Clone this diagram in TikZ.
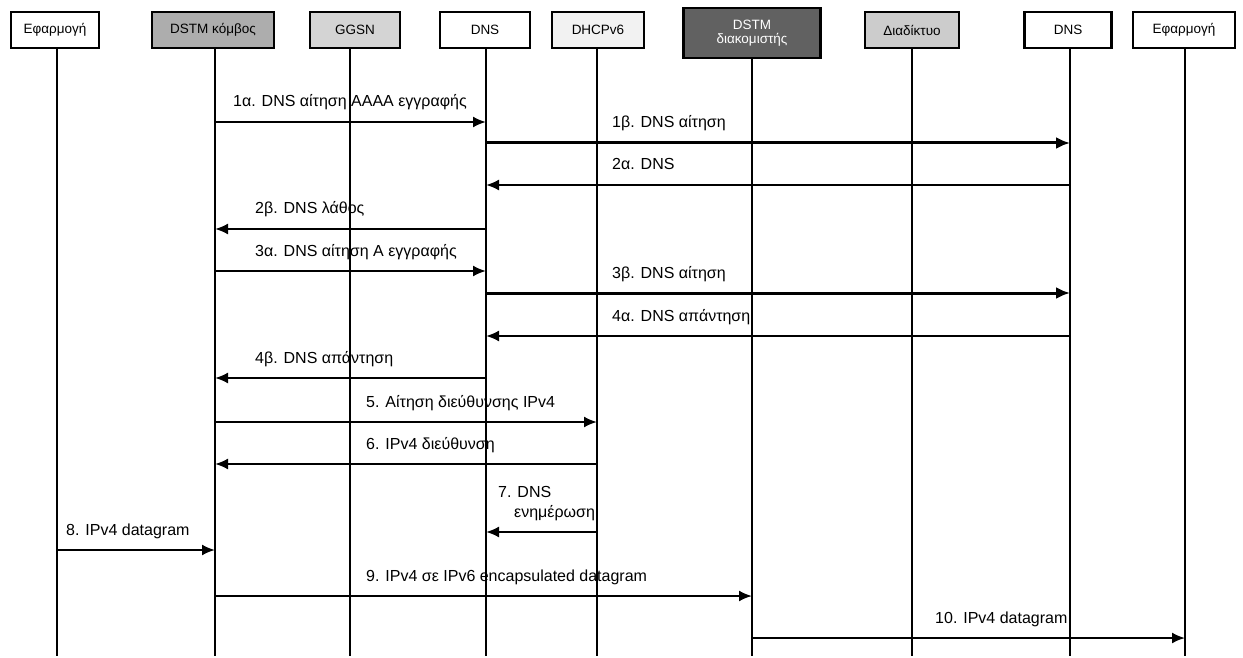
\documentclass[tikz,border=0pt]{standalone}
\usepackage{fontspec}
\setmainfont{Liberation Sans}
\usetikzlibrary{arrows.meta}
\begin{document}
\begin{tikzpicture}[x=1pt,y=-1pt,
  actor/.style={draw=black,line width=2.8pt,minimum height=36pt,inner sep=1pt,align=center,font=\fontsize{13.5}{14}\selectfont},
  life/.style={line width=1.9pt},
  msg/.style={line width=2pt,-{Latex[length=13pt,width=11pt]}},
  bmsg/.style={line width=3pt,-{Latex[length=14pt,width=12pt]}},
  lbl/.style={anchor=base west,inner sep=0pt,font=\fontsize{16}{20}\selectfont}]
\useasboundingbox (0,0) rectangle (1243,658);
% lifeline ends
\coordinate (app1e) at (57,656);
\coordinate (dstmne) at (215,656);
\coordinate (ggsne) at (350,656);
\coordinate (dns1e) at (486,656);
\coordinate (dhcpe) at (597,656);
\coordinate (dstmse) at (752,656);
\coordinate (inete) at (912,656);
\coordinate (dns2e) at (1070,656);
\coordinate (app2e) at (1185,656);
% actors
\node[actor,minimum width=88pt] (app1) at (55,30) {Εφαρμογή};
\node[actor,minimum width=122pt,fill=black!32] (dstmn) at (213,30) {DSTM κόμβος};
\node[actor,minimum width=90pt,fill=black!17] (ggsn) at (355,30) {GGSN};
\node[actor,minimum width=90pt] (dns1) at (485,30) {DNS};
\node[actor,minimum width=92pt,fill=black!5] (dhcp) at (598,30) {DHCPv6};
\node[actor,minimum width=137pt,minimum height=50pt,fill=black!62,text=white] (dstms) at (752,33) {DSTM\\διακομιστής};
\node[actor,minimum width=94pt,fill=black!20] (inet) at (912,30) {Διαδίκτυο};
\node[actor,minimum width=87pt] (dns2) at (1068,30) {DNS};
\node[actor,minimum width=102pt] (app2) at (1184,30) {Εφαρμογή};
% lifelines
\draw[life] (app1e |- app1.south) -- (app1e);
\draw[life] (dstmne |- dstmn.south) -- (dstmne);
\draw[life] (ggsne |- ggsn.south) -- (ggsne);
\draw[life] (dns1e |- dns1.south) -- (dns1e);
\draw[life] (dhcpe |- dhcp.south) -- (dhcpe);
\draw[life] (dstmse |- dstms.south) -- (dstmse);
\draw[life] (inete |- inet.south) -- (inete);
\draw[life] (dns2e |- dns2.south) -- (dns2e);
\draw[life] (app2e |- app2.south) -- (app2e);
% messages
\draw[msg] (dstmne |- 0,122) -- (dns1e |- 0,122);
\node[lbl] (l1a) at (233,107) {1α. DNS αίτηση AAAA εγγραφής};
\draw[bmsg] (dns1e |- 0,143) -- (dns2e |- 0,143);
\node[lbl] (l1b) at (612,128) {1β. DNS αίτηση};
\draw[msg] (dns2e |- 0,185) -- (dns1e |- 0,185);
\node[lbl] (l2a) at (612,170) {2α. DNS};
\draw[msg] (dns1e |- 0,229) -- (dstmne |- 0,229);
\node[lbl] (l2b) at (255,214) {2β. DNS λάθος};
\draw[msg] (dstmne |- 0,271) -- (dns1e |- 0,271);
\node[lbl] (l3a) at (255,256) {3α. DNS αίτηση A εγγραφής};
\draw[bmsg] (dns1e |- 0,293) -- (dns2e |- 0,293);
\node[lbl] (l3b) at (612,278) {3β. DNS αίτηση};
\draw[msg] (dns2e |- 0,336) -- (dns1e |- 0,336);
\node[lbl] (l4a) at (612,321) {4α. DNS απάντηση};
\draw[msg] (dns1e |- 0,378) -- (dstmne |- 0,378);
\node[lbl] (l4b) at (255,363) {4β. DNS απάντηση};
\draw[msg] (dstmne |- 0,422) -- (dhcpe |- 0,422);
\node[lbl] (l5) at (366,407) {5. Αίτηση διεύθυνσης IPv4};
\draw[msg] (dhcpe |- 0,464) -- (dstmne |- 0,464);
\node[lbl] (l6) at (366,449) {6. IPv4 διεύθυνση};
\draw[msg] (dhcpe |- 0,532) -- (dns1e |- 0,532);
\node[lbl] (l7) at (498,497) {7. DNS};
\node[lbl] (l7b) at (514,517) {ενημέρωση};
\draw[msg] (app1e |- 0,550) -- (dstmne |- 0,550);
\node[lbl] (l8) at (66,535) {8. IPv4 datagram};
\draw[msg] (dstmne |- 0,596) -- (dstmse |- 0,596);
\node[lbl] (l9) at (366,581) {9. IPv4 σε IPv6 encapsulated datagram};
\draw[msg] (dstmse |- 0,638) -- (app2e |- 0,638);
\node[lbl] (l10) at (935,623) {10. IPv4 datagram};
\end{tikzpicture}
\end{document}
